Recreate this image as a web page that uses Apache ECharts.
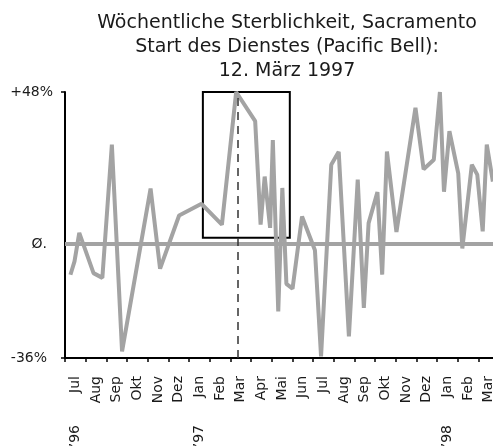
<!DOCTYPE html>
<html lang="de">
<head>
  <meta charset="UTF-8">
  <title>Sterblichkeit Sacramento</title>
  <script src="https://cdn.jsdelivr.net/npm/echarts@6/dist/echarts.min.js"></script>
  <style>
    html, body { margin: 0; padding: 0; background: #fff; }
    #chart { width: 493px; height: 447px; }
  </style>
</head>
<body>
<div id="chart"></div>
<script>
  // Monatsachse (Kategorien)
  const months = ['Jul', 'Aug', 'Sep', 'Okt', 'Nov', 'Dez', 'Jan', 'Feb', 'Mar', 'Apr', 'Mai', 'Jun',
    'Jul', 'Aug', 'Sep', 'Okt', 'Nov', 'Dez', 'Jan', 'Feb', 'Mar'];
  const years = ['\u201996', '', '', '', '', '', '\u201997', '', '', '', '', '', '', '', '', '', '', '', '\u201998', '', ''];

  // Wöchentliche Abweichung der Sterblichkeit in % (Eckpunkte der Linie)
  const weekDates = [
    '1996-07-09', '1996-07-15', '1996-07-22', '1996-08-12', '1996-08-25', '1996-09-08', '1996-09-23',
    '1996-11-04', '1996-11-18', '1996-12-16', '1997-01-18', '1997-02-17', '1997-03-10', '1997-04-07',
    '1997-04-15', '1997-04-21', '1997-04-29', '1997-05-03', '1997-05-11', '1997-05-17', '1997-05-23',
    '1997-06-01', '1997-06-15', '1997-07-04', '1997-07-13', '1997-07-28', '1997-08-08', '1997-08-23',
    '1997-09-05', '1997-09-14', '1997-09-21', '1997-10-04', '1997-10-11', '1997-10-18', '1997-11-01',
    '1997-11-29', '1997-12-11', '1997-12-26', '1998-01-04', '1998-01-10', '1998-01-18', '1998-01-31',
    '1998-02-06', '1998-02-20', '1998-02-28', '1998-03-08', '1998-03-14', '1998-03-23'
  ];
  const mortality = [
    -9.7, -5.5, 3.5, -9.2, -10.7, 31.4, -33.9,
    17.5, -7.8, 9.0, 12.7, 6.1, 48, 38.8,
    6.1, 21.3, 5.1, 32.8, -21.3, 17.7, -12.6,
    -14.1, 8.7, -2.0, -35.5, 25.0, 29.1, -29.2,
    20.3, -20.2, 6.6, 16.4, -9.7, 29.2, 3.8,
    43.0, 23.6, 26.6, 48, 16.5, 35.6, 22.3,
    -1.4, 25.0, 21.9, 4.0, 31.4, 19.7
  ];

  // y-Achse
  const yTickValues = [-36, 48];
  const yLabelValues = [-36, 0, 48];
  const yLabelText = { '-36': '{low|-36%}', '0': '{mid|Ø.}', '48': '{top|+48%}' };

  // Markierungen
  const serviceStart = '1997-03-12';
  const boxFrom = ['1997-01-20', 49.7];
  const boxTo = ['1997-05-28', 2.0];

  const font = 'DejaVu Sans';
  const gray = '#a3a3a3';

  let myChart = echarts.init(document.getElementById('chart'));

  let lineData = [];
  for (let i = 0; i < weekDates.length; i++) {
    lineData.push([weekDates[i], mortality[i]]);
  }

  let option = {
    animation: false,
    title: {
      text: 'Wöchentliche Sterblichkeit, Sacramento\nStart des Dienstes (Pacific Bell):\n12. März 1997',
      left: 282,
      top: 6,
      textAlign: 'center',
      textStyle: {
        fontFamily: font,
        fontSize: 19,
        fontWeight: 'normal',
        color: '#1a1a1a',
        lineHeight: 24
      }
    },
    grid: {
      left: 65,
      right: -6,
      top: 92,
      bottom: 89,
      outerBoundsMode: 'none'
    },
    xAxis: [
      {
        type: 'category',
        position: 'bottom',
        data: months,
        boundaryGap: true,
        axisLine: { onZero: false, lineStyle: { color: '#000', width: 2 } },
        axisTick: { show: true, length: 4, lineStyle: { color: '#000', width: 1.5 } },
        axisLabel: {
          rotate: 90,
          margin: 18,
          interval: 0,
          fontFamily: font,
          fontSize: 14,
          color: '#1a1a1a'
        },
        splitLine: { show: false }
      },
      {
        type: 'time',
        position: 'top',
        show: false,
        axisLine: { onZero: false },
        min: '1996-07-01',
        max: '1998-04-01'
      },
      {
        type: 'category',
        position: 'bottom',
        data: years,
        boundaryGap: true,
        axisLine: { show: false, onZero: false },
        axisTick: { show: false },
        axisLabel: {
          rotate: 90,
          margin: 67,
          interval: 0,
          fontFamily: font,
          fontSize: 14,
          color: '#1a1a1a'
        },
        splitLine: { show: false }
      }
    ],
    yAxis: {
      type: 'value',
      min: -36,
      max: 48,
      interval: 12,
      axisLine: { show: true, lineStyle: { color: '#000', width: 2 } },
      axisTick: { show: true, length: 4, customValues: yTickValues, lineStyle: { color: '#000', width: 1.5 } },
      axisLabel: {
        customValues: yLabelValues,
        margin: 12,
        formatter: function (v) {
          return yLabelText[String(v)];
        },
        rich: {
          top: { fontFamily: font, fontSize: 14, color: '#1a1a1a', padding: [0, 0, 0, 0] },
          mid: { fontFamily: font, fontSize: 14, color: '#1a1a1a', padding: [0, 6, 0, 0] },
          low: { fontFamily: font, fontSize: 14, color: '#1a1a1a', padding: [0, 6, 0, 0] }
        }
      },
      splitLine: { show: false }
    },
    series: [
      {
        type: 'line',
        xAxisIndex: 1,
        data: lineData,
        showSymbol: false,
        symbol: 'none',
        clip: false,
        lineStyle: { color: gray, width: 4 },
        z: 3,
        markLine: {
          silent: true,
          symbol: 'none',
          label: { show: false },
          data: [
            { yAxis: 0, lineStyle: { color: gray, width: 4, type: 'solid' } },
            { xAxis: serviceStart, lineStyle: { color: '#333', width: 1.5, type: [8, 6] } }
          ]
        },
        markArea: {
          silent: true,
          itemStyle: { color: 'rgba(0,0,0,0)', borderColor: '#000', borderWidth: 2 },
          data: [[
            { xAxis: boxFrom[0], yAxis: boxFrom[1] },
            { xAxis: boxTo[0], yAxis: boxTo[1] }
          ]]
        }
      }
    ]
  };
  myChart.setOption(option, true);
</script>
</body>
</html>
